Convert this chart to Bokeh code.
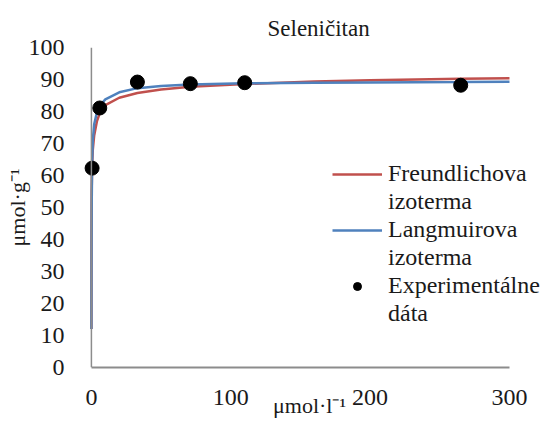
from bokeh.plotting import figure
from bokeh.models import Range1d, Legend, LegendItem, Span, FixedTicker, Title
from bokeh.embed import file_html
from bokeh.resources import INLINE

# ---- data ----
title_text = "Seleničitan"
x_label = "μmol·l⁻¹"
y_label = "μmol·g⁻¹"

exp_c = [0.5, 6, 33, 71, 110, 265]
exp_q = [62.3, 81.1, 89.2, 88.7, 89.0, 88.2]

curve_c = [0, 0.05, 0.2, 0.5, 1, 2, 4, 6, 10, 20, 33, 50, 71, 110, 160, 200, 265, 300]
langmuir_q = [12, 28, 50, 64, 71, 76, 79.8, 81.8, 83.8, 86.0, 87.3, 88.0, 88.4, 88.8, 89.0, 89.1, 89.2, 89.3]
freundlich_q = [12, 40, 55, 63, 68, 72.5, 77, 79.5, 82, 84.3, 85.8, 86.9, 87.7, 88.6, 89.4, 89.8, 90.2, 90.4]

x_ticks = [0, 100, 200, 300]
y_ticks = [0, 10, 20, 30, 40, 50, 60, 70, 80, 90, 100]

legend_lines = ["Freundlichova", "izoterma", "Langmuirova", "izoterma", "Experimentálne", "dáta"]

RED = "#C0504D"
BLUE = "#4F81BD"
FONT = "Liberation Serif"
TXT = "#1a1a1a"

p = figure(width=550, height=420, output_backend="svg", toolbar_location=None,
           x_range=Range1d(-15, 328), y_range=Range1d(0, 100),
           min_border_left=70, min_border_right=2, min_border_top=47, min_border_bottom=51)
p.outline_line_color = None
p.grid.visible = False

# title
p.title = Title(text=title_text, align="left", offset=197, text_font=FONT,
                text_font_size="23px", text_font_style="normal", text_color=TXT, standoff=13)

# axes
p.xaxis.ticker = FixedTicker(ticks=x_ticks)
p.yaxis.ticker = FixedTicker(ticks=y_ticks)
p.xaxis.bounds = (0, 300)
for ax in (p.xaxis, p.yaxis):
    ax.major_tick_line_color = None
    ax.minor_tick_line_color = None
    ax.major_label_text_font = FONT
    ax.major_label_text_font_size = "24px"
    ax.major_label_text_color = TXT
    ax.axis_label_text_font = FONT
    ax.axis_label_text_font_size = "22px"
    ax.axis_label_text_font_style = "normal"
    ax.axis_label_text_color = TXT
p.xaxis.axis_line_color = "#8c8c8c"
p.xaxis.axis_line_width = 2
p.yaxis.axis_line_color = None
p.xaxis.major_label_standoff = 16
p.yaxis.major_label_standoff = 0
p.xaxis.axis_label = x_label
p.yaxis.axis_label = y_label
p.xaxis.axis_label_standoff = -15
p.yaxis.axis_label_standoff = -4

yline = Span(location=0, dimension="height", line_color="#8c8c8c", line_width=1.5)
p.add_layout(yline)

r_f = p.line(curve_c, freundlich_q, line_color=RED, line_width=2.5)
r_l = p.line(curve_c, langmuir_q, line_color=BLUE, line_width=2.5)
r_e = p.scatter(exp_c, exp_q, size=14, fill_color="black", line_color="black")

item_renderers = [[r_f], [], [r_l], [], [r_e], []]
legend = Legend(items=[LegendItem(label=t, renderers=r) for t, r in zip(legend_lines, item_renderers)],
                location=(262, 40), padding=0, margin=0, spacing=1,
                glyph_width=50, glyph_height=20, label_standoff=6,
                label_text_font=FONT, label_text_font_size="24px",
                label_text_color=TXT,
                background_fill_alpha=0, border_line_color=None)
p.add_layout(legend)

open("out.html", "w").write(file_html(p, INLINE))
